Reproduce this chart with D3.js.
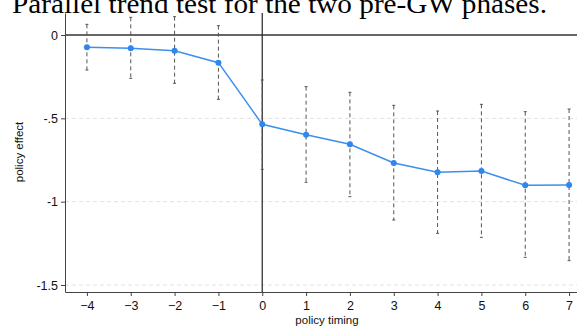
<!DOCTYPE html>
<html>
<head>
<meta charset="utf-8">
<script src="https://cdn.jsdelivr.net/npm/d3@7"></script>
<style>
  body { margin: 0; background: #fff; }
  svg { display: block; }
</style>
</head>
<body>
<div id="chart"></div>
<script>
// event-study estimates
const timing = [-4, -3, -2, -1, 0, 1, 2, 3, 4, 5, 6, 7];
const effect = [-0.074, -0.080, -0.094, -0.166, -0.536, -0.598, -0.656, -0.768, -0.824, -0.816, -0.902, -0.900];
const ciHigh = [0.064, 0.106, 0.110, 0.056, -0.270, -0.310, -0.344, -0.422, -0.456, -0.416, -0.460, -0.444];
const ciLow  = [-0.210, -0.260, -0.290, -0.386, -0.806, -0.884, -0.970, -1.110, -1.190, -1.214, -1.334, -1.354];
const yTicks = [0, -0.5, -1, -1.5];
const yTickLabels = ["0", "-.5", "-1", "-1.5"];

const width = 577,
      height = 327,
      margin = ({top: 13, right: -14, bottom: 35, left: 65});

const sans = "Liberation Sans, Arial, Helvetica, sans-serif";

const data = timing.map((t, i) => ({t: t, v: effect[i], hi: ciHigh[i], lo: ciLow[i]}));

let svg = d3.select("#chart")
    .append("svg")
    .attr("width", width)
    .attr("height", height);

let x = d3.scaleLinear()
    .domain([-4.5, 7.5])
    .range([margin.left, width - margin.right]);

let y = d3.scaleLinear()
    .domain([0.132, -1.542])
    .range([margin.top, height - margin.bottom]);

// light dashed gridlines
svg.append("g")
    .selectAll("line")
    .data(yTicks.filter(d => d !== 0))
    .join("line")
    .attr("x1", margin.left)
    .attr("x2", width)
    .attr("y1", d => y(d))
    .attr("y2", d => y(d))
    .attr("stroke", "#e3e3e3")
    .attr("stroke-width", 1)
    .attr("stroke-dasharray", "4,3");

// reference lines at zero
svg.append("line")
    .attr("x1", margin.left).attr("x2", width)
    .attr("y1", y(0)).attr("y2", y(0))
    .attr("stroke", "#333").attr("stroke-width", 1.3);

svg.append("line")
    .attr("x1", x(0)).attr("x2", x(0))
    .attr("y1", margin.top).attr("y2", height - margin.bottom)
    .attr("stroke", "#333").attr("stroke-width", 1.3);

// axes
const xAxis = g => g
    .attr("transform", `translate(0,${height - margin.bottom})`)
    .call(d3.axisBottom(x).tickValues(timing).tickFormat(d3.format("d")).tickSize(4).tickSizeOuter(0))
    .call(g => g.select(".domain").attr("stroke", "#444"))
    .call(g => g.selectAll(".tick line").attr("stroke", "#444"))
    .call(g => g.selectAll("text")
        .attr("font-family", sans)
        .attr("font-size", 12.5)
        .attr("fill", "#111")
        .attr("dy", "0.85em"));

const yAxis = g => g
    .attr("transform", `translate(${margin.left},0)`)
    .call(d3.axisLeft(y).tickValues(yTicks).tickFormat((d, i) => yTickLabels[i]).tickSize(4).tickSizeOuter(0))
    .call(g => g.select(".domain").attr("stroke", "#444"))
    .call(g => g.selectAll(".tick line").attr("stroke", "#444"))
    .call(g => g.selectAll("text")
        .attr("font-family", sans)
        .attr("font-size", 12.5)
        .attr("fill", "#111")
        .attr("x", -7));

svg.append("g").call(xAxis);
svg.append("g").call(yAxis);

// confidence intervals
let ci = svg.append("g")
    .selectAll("g")
    .data(data)
    .join("g")
    .attr("stroke", "#555")
    .attr("stroke-width", 1);

ci.append("line")
    .attr("x1", d => x(d.t)).attr("x2", d => x(d.t))
    .attr("y1", d => y(d.hi)).attr("y2", d => y(d.lo))
    .attr("stroke-dasharray", "4,3");

ci.append("line")
    .attr("x1", d => x(d.t) - 1.5).attr("x2", d => x(d.t) + 1.5)
    .attr("y1", d => y(d.hi)).attr("y2", d => y(d.hi));

ci.append("line")
    .attr("x1", d => x(d.t) - 1.5).attr("x2", d => x(d.t) + 1.5)
    .attr("y1", d => y(d.lo)).attr("y2", d => y(d.lo));

// point estimates
svg.append("path")
    .datum(data)
    .attr("fill", "none")
    .attr("stroke", "#3b8ff0")
    .attr("stroke-width", 1.5)
    .attr("d", d3.line().x(d => x(d.t)).y(d => y(d.v)));

svg.append("g")
    .selectAll("circle")
    .data(data)
    .join("circle")
    .attr("cx", d => x(d.t))
    .attr("cy", d => y(d.v))
    .attr("r", 3)
    .attr("fill", "#2f86ee");

// axis titles
svg.append("text")
    .attr("x", 327)
    .attr("y", height - 3)
    .attr("text-anchor", "middle")
    .attr("font-family", sans)
    .attr("font-size", 11.5)
    .attr("fill", "#111")
    .text("policy timing");

svg.append("text")
    .attr("transform", `translate(23,152) rotate(-90)`)
    .attr("text-anchor", "middle")
    .attr("font-family", sans)
    .attr("font-size", 11.5)
    .attr("fill", "#111")
    .text("policy effect");

// title, partly cut off at the top like the source
svg.append("text")
    .attr("x", 12)
    .attr("y", 13)
    .attr("font-family", "Liberation Serif, Times New Roman, serif")
    .attr("font-size", 27)
    .attr("textLength", 535)
    .attr("lengthAdjust", "spacingAndGlyphs")
    .attr("fill", "#000")
    .text("Parallel trend test for the two pre-GW phases.");
</script>
</body>
</html>
